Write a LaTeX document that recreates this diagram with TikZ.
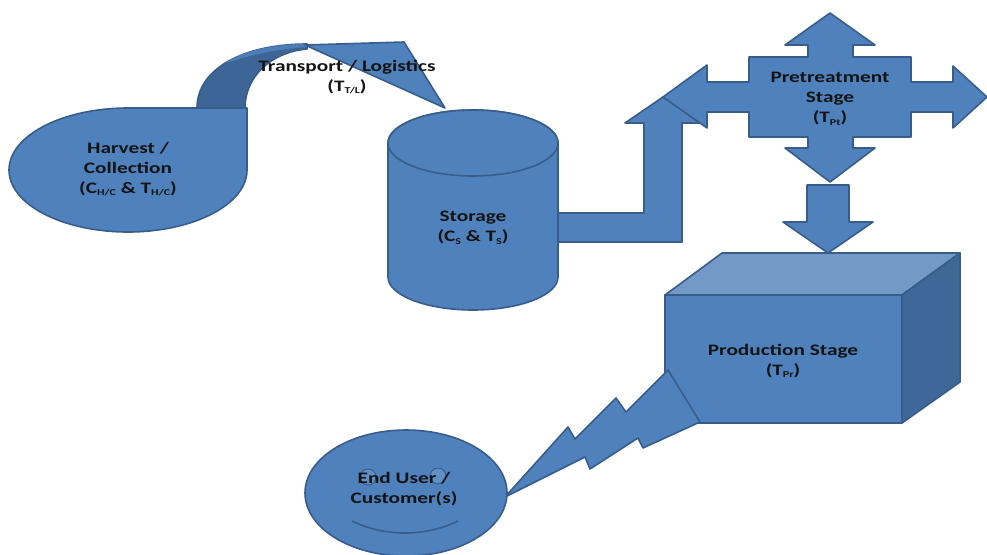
\documentclass[tikz,border=0pt]{standalone}
\usepackage{fontspec}
\setmainfont{Carlito}[FakeStretch=1.33]
\usepackage{xcolor}
\definecolor{shapefill}{HTML}{4F81BD}
\definecolor{shapeline}{HTML}{385D8A}
\definecolor{shapedark}{HTML}{3D6596}
\definecolor{shapelight}{HTML}{7299C8}
\definecolor{shapeside}{HTML}{3F6898}
\tikzstyle{shp}=[fill=shapefill,draw=shapeline,line width=1.6pt,line join=round]
\tikzstyle{lbl}=[font=\bfseries\fontsize{16}{20}\selectfont,align=center,
  text=black!92,inner sep=0pt]
\newcommand\lowtext[1]{\raisebox{-0.35ex}{\fontsize{9}{9}\selectfont #1}}

\begin{document}
\begin{tikzpicture}[x=1pt,y=-1pt]
\useasboundingbox (0,0) rectangle (987,554);
% transport band and head
\draw[shp,fill=shapedark] (197,108) .. controls (197,68) and (245,44) .. (307,44)
  -- (307,49) .. controls (272,52) and (245,76) .. (245,108) -- cycle;
\draw[shp,draw=none,fill=shapefill!85!shapedark] (222,64) .. controls (245,50) and (275,44) .. (307,44)
  -- (307,47) .. controls (275,49) and (248,56) .. (222,64) -- cycle;
\draw[shp] (305,45) -- (404,42) -- (445,108) -- cycle;
\coordinate (TT) at (347,77);
% harvest
\draw[shp] (247,170) -- (247,108) -- (128,108)
  arc[start angle=-90,end angle=-360,x radius=119,y radius=62] -- cycle;
\coordinate (HC) at (128,169);
% storage to pretreatment
\draw[shp] (550,213) -- (644,213) -- (644,123) -- (625,123) -- (663,97)
  -- (701,123) -- (682,123) -- (682,242) -- (550,242) -- cycle;
\draw[shp] (388,143) -- (388,277)
  arc[start angle=180,end angle=0,x radius=85,y radius=33] -- (558,143)
  arc[start angle=0,end angle=-180,x radius=85,y radius=33] -- cycle;
\draw[shp] (473,143) ellipse[x radius=85,y radius=33];
\coordinate (ST) at (473,228);
% pretreatment
\draw[shp] (830,13) -- (875,45) -- (853,45) -- (853,57) -- (911,57) -- (911,82)
  -- (953,82) -- (953,66) -- (987,97) -- (953,128) -- (953,112) -- (911,112)
  -- (911,137) -- (853,137) -- (853,148) -- (875,148) -- (830,182) -- (785,148)
  -- (808,148) -- (808,137) -- (749,137) -- (749,112) -- (707,112) -- (707,128)
  -- (663,97) -- (707,65) -- (707,82) -- (749,82) -- (749,57) -- (808,57)
  -- (808,45) -- (785,45) -- cycle;
\coordinate (PT) at (830,99);
\draw[shp] (807,185) -- (849,185) -- (849,222) -- (873,222) -- (828,253)
  -- (783,222) -- (807,222) -- cycle;
% production
\draw[shp] (665,295) rectangle (902,423);
\draw[shp,fill=shapelight] (665,295) -- (722,253) -- (960,253) -- (902,295) -- cycle;
\draw[shp,fill=shapeside] (902,295) -- (960,253) -- (960,382) -- (902,423) -- cycle;
\coordinate (PR) at (783,361);
% bolt
\draw[shp] (668,370) -- (700,422) -- (643,448) -- (638,438) -- (590,469)
  -- (585,457) -- (505,497) -- (568,427) -- (575,439) -- (616,398)
  -- (626,412) -- cycle;
% end user
\draw[shp] (406,493) ellipse[x radius=101,y radius=63];
\draw[shp,fill=shapefill!90!white,line width=1pt] (368,477) circle[radius=8];
\draw[shp,fill=shapefill!90!white,line width=1pt] (438,476) circle[radius=8];
\draw[shapeline,line width=1.6pt] (352,521) .. controls (385,537) and (425,537) .. (458,521);
\coordinate (EU) at (404,489);
\node[lbl] (harvest) at (HC) {Harvest /\\Collection\\(C\lowtext{H/C} \& T\lowtext{H/C})};
\node[lbl] (transport) at (TT) {Transport / Logistics\\(T\lowtext{T/L})};
\node[lbl] (storage) at (ST) {Storage\\(C\lowtext{S} \& T\lowtext{S})};
\node[lbl] (pretreat) at (PT) {Pretreatment\\Stage\\(T\lowtext{Pt})};
\node[lbl] (production) at (PR) {Production Stage\\(T\lowtext{Pr})};
\node[lbl] (enduser) at (EU) {End User /\\Customer(s)};
\end{tikzpicture}
\end{document}
